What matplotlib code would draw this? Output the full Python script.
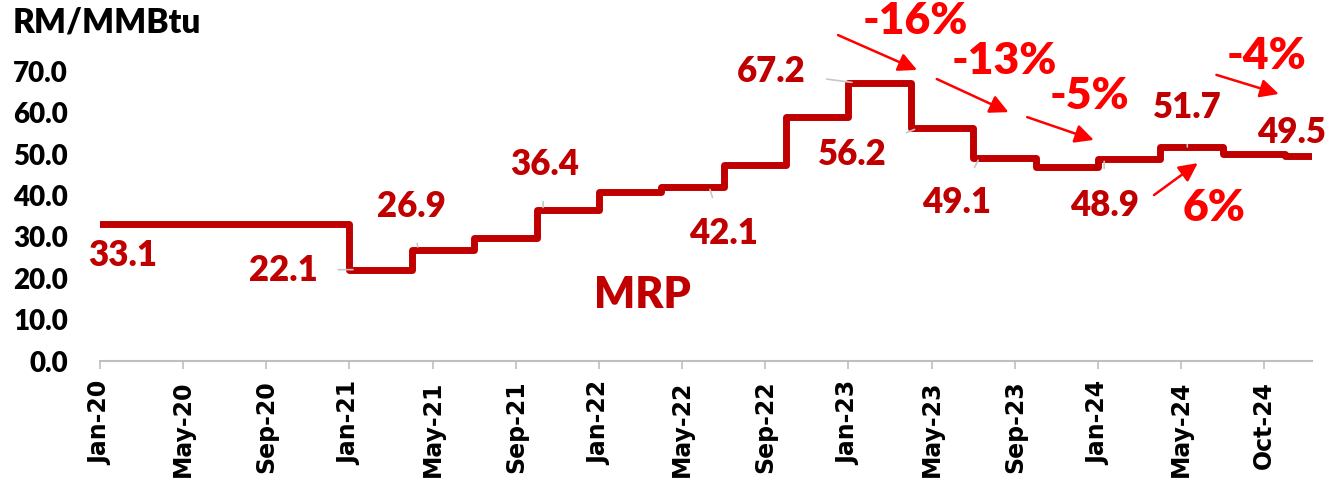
import numpy as np
import matplotlib.pyplot as plt

plt.rcParams['font.family'] = ['Lato', 'DejaVu Sans']
plt.rcParams['font.weight'] = 'bold'

# monthly MRP, Jan-20 onwards (RM/MMBtu)
levels = [33.1, 22.1, 26.9, 29.7, 36.4, 40.9, 42.1, 47.3, 58.9, 67.2, 56.2, 49.1, 46.9, 48.9, 51.7, 50.0, 49.5]
months = [12, 3, 3, 3, 3, 3, 3, 3, 3, 3, 3, 3, 3, 3, 3, 3, 2]
mrp = np.repeat(levels, months)

tick_labels = ['Jan-20', 'May-20', 'Sep-20', 'Jan-21', 'May-21', 'Sep-21', 'Jan-22', 'May-22',
               'Sep-22', 'Jan-23', 'May-23', 'Sep-23', 'Jan-24', 'May-24', 'Oct-24']

# data labels: point index, label position (x, y)
lab_idx = [0, 12, 15, 21, 29, 36, 39, 42, 48, 52, 57]
lab_pos = [(1.1, 25.6), (8.8, 22.0), (15.0, 37.4), (21.4, 47.5), (30.0, 30.7), (32.3, 69.8),
           (36.2, 49.8), (41.2, 38.2), (48.3, 37.5), (52.3, 61.3), (57.3, 55.1)]
leader = [False, True, True, True, True, True, True, True, True, True, False]

# change annotations
pct_text = ['-16%', '-13%', '-5%', '6%', '-4%']
pct_pos = [(39.2, 82.0), (43.5, 72.5), (47.6, 64.0), (53.6, 37.0), (56.1, 73.7)]
arr_from = [(35.5, 78.7), (40.25, 68.1), (44.6, 58.9), (50.7, 40.1), (53.7, 69.1)]
arr_to = [(39.3, 70.3), (43.7, 60.1), (47.8, 53.4), (52.8, 47.8), (56.7, 64.5)]

dred = '#C00000'
heavy = 'heavy'

fig = plt.figure(figsize=(13.3, 4.83), dpi=100)
ax = fig.add_axes([0.0752, 0.2522, 0.9113, 0.6863])

x = np.arange(len(mrp) + 1)
ax.plot(x, np.append(mrp, mrp[-1]), drawstyle='steps-post', color=dred, lw=5, solid_joinstyle='round')

ax.set_xlim(0, 58.3)
ax.set_ylim(0, 80)
ax.set_yticks(np.arange(0, 71, 10))
ax.set_yticklabels(['%.1f' % v for v in np.arange(0, 71, 10)], fontsize=20, fontweight=heavy)
ax.set_xticks(np.arange(0, 57, 4))
ax.set_xticklabels(tick_labels, rotation=90, fontsize=17, fontweight='bold', family='DejaVu Sans')
ax.tick_params(axis='y', length=0, pad=23)
ax.tick_params(axis='x', length=6, width=1.2, color='#BFBFBF', pad=8)
for s in ['left', 'top', 'right']:
    ax.spines[s].set_visible(False)
ax.spines['bottom'].set_color('#BFBFBF')
ax.spines['bottom'].set_linewidth(1.5)

for i, (tx, ty), ld in zip(lab_idx, lab_pos, leader):
    v = mrp[i]
    if ld:
        ax.annotate('%.1f' % v, xy=(i + 0.3, v), xytext=(tx, ty), ha='center', va='center',
                    fontsize=25, fontweight=heavy, color=dred, annotation_clip=False,
                    arrowprops=dict(arrowstyle='-', color='#C8C8C8', lw=1.2, shrinkA=13, shrinkB=2))
    else:
        ax.text(tx, ty, '%.1f' % v, ha='center', va='center', fontsize=25,
                fontweight=heavy, color=dred, clip_on=False)

for t, p, a, b in zip(pct_text, pct_pos, arr_from, arr_to):
    ax.text(p[0], p[1], t, ha='center', va='center', fontsize=32, fontweight=heavy,
            color='#FF0000', clip_on=False)
    ax.annotate('', xy=b, xytext=a, annotation_clip=False,
                arrowprops=dict(arrowstyle='-|>', color='#FF0000', lw=1.8, mutation_scale=28,
                                shrinkA=0, shrinkB=0))

ax.text(26.1, 16.0, 'MRP', ha='center', va='center', fontsize=31, fontweight=heavy, color=dred)
fig.text(13 / 1330, 1 - 33 / 483, 'RM/MMBtu', fontsize=24, fontweight=heavy, va='baseline')

fig.savefig('out.png', dpi=100)
